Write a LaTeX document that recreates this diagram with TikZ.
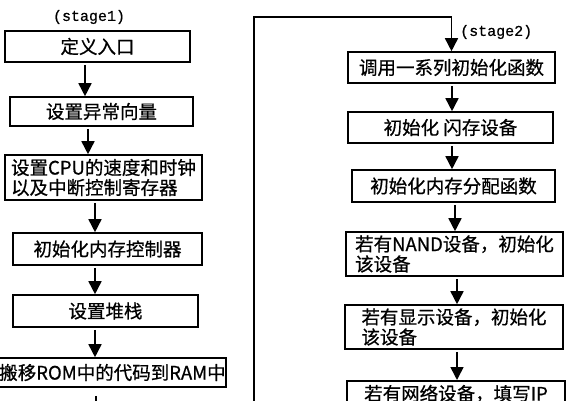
\documentclass[tikz,border=0pt]{standalone}
\usepackage{fontspec}
\setmainfont{Noto Sans CJK SC}[FakeBold=0.7]
\newfontfamily\stagefont{Liberation Mono}[FakeBold=0.6]
\usetikzlibrary{arrows.meta}
\tikzset{
  stepbox/.style={draw, line width=1.6pt, inner sep=0pt, align=left,
    font=\fontsize{18.5}{20}\selectfont},
  arr/.style={line width=1.6pt, shorten <=2pt, -{Triangle[width=13pt,length=13pt]}},
  stagelbl/.style={font=\stagefont\fontsize{15}{16}\selectfont, inner sep=0pt},
}
\begin{document}
\begin{tikzpicture}[x=1pt,y=-1pt]
    \useasboundingbox (0,0) rectangle (575,400);
    \clip (0,0) rectangle (575,400);
      % stage 1
      \node[stagelbl] (s1) at (89,17) {(stage1)};
      \node[stepbox, minimum width=185pt, minimum height=31pt] (L1) at (97.5,46.5) {定义入口};
      \node[stepbox, minimum width=183pt, minimum height=29pt] (L2) at (101.5,111.5) {设置异常向量};
      \node[stepbox, minimum width=197pt, minimum height=45pt] (L3) at (103.5,177.5) {设置CPU的速度和时钟\\以及中断控制寄存器};
      \node[stepbox, minimum width=189pt, minimum height=32pt] (L4) at (107.5,249) {初始化内存控制器};
      \node[stepbox, minimum width=185pt, minimum height=32pt] (L5) at (105.5,311) {设置堆栈};
      \node[stepbox, minimum width=219pt, minimum height=29pt] (L6) at (112.5,372.5) {搬移ROM中的代码到RAM中};
      \foreach \a/\b/\x in {L1/L2/85, L2/L3/88, L3/L4/95, L4/L5/95, L5/L6/95}{
        \draw[arr] (\x,0 |- \a.south) -- (\x,0 |- \b.north);
      }
      \coordinate (lout) at (96,430);
      \draw[arr, shorten <=8pt] (96,0 |- L6.south) -- (lout);
      % stage 2
      \node[stagelbl, anchor=west] (s2) at (460,32) {(stage2)};
      \node[stepbox, minimum width=207pt, minimum height=31pt] (R1) at (451.5,67.5) {调用一系列初始化函数};
      \node[stepbox, minimum width=205pt, minimum height=31pt] (R2) at (450.5,127.5) {初始化 闪存设备};
      \node[stepbox, minimum width=203pt, minimum height=32pt] (R3) at (453.5,186) {初始化内存分配函数};
      \node[stepbox, minimum width=217pt, minimum height=44pt] (R4) at (454.5,254) {若有NAND设备，初始化\\该设备};
      \node[stepbox, minimum width=218pt, minimum height=44pt] (R5) at (454,327) {若有显示设备，初始化\\该设备};
      \node[stepbox, minimum width=218pt, anchor=north, inner ysep=4pt, text depth=30pt] (R6) at (456,380) {若有网络设备，填写IP};
      \foreach \a/\b/\x in {R1/R2/452, R2/R3/452, R3/R4/455, R4/R5/457, R5/R6/457}{
        \draw[arr] (\x,0 |- \a.south) -- (\x,0 |- \b.north);
      }
      % loop from stage 1 to stage 2
      \coordinate (jb) at (254,430);
      \coordinate (jt) at (254,17);
      \draw[arr, shorten <=0pt] (jb) -- (jt) -| (R1.north);
    \end{tikzpicture}
\end{document}
